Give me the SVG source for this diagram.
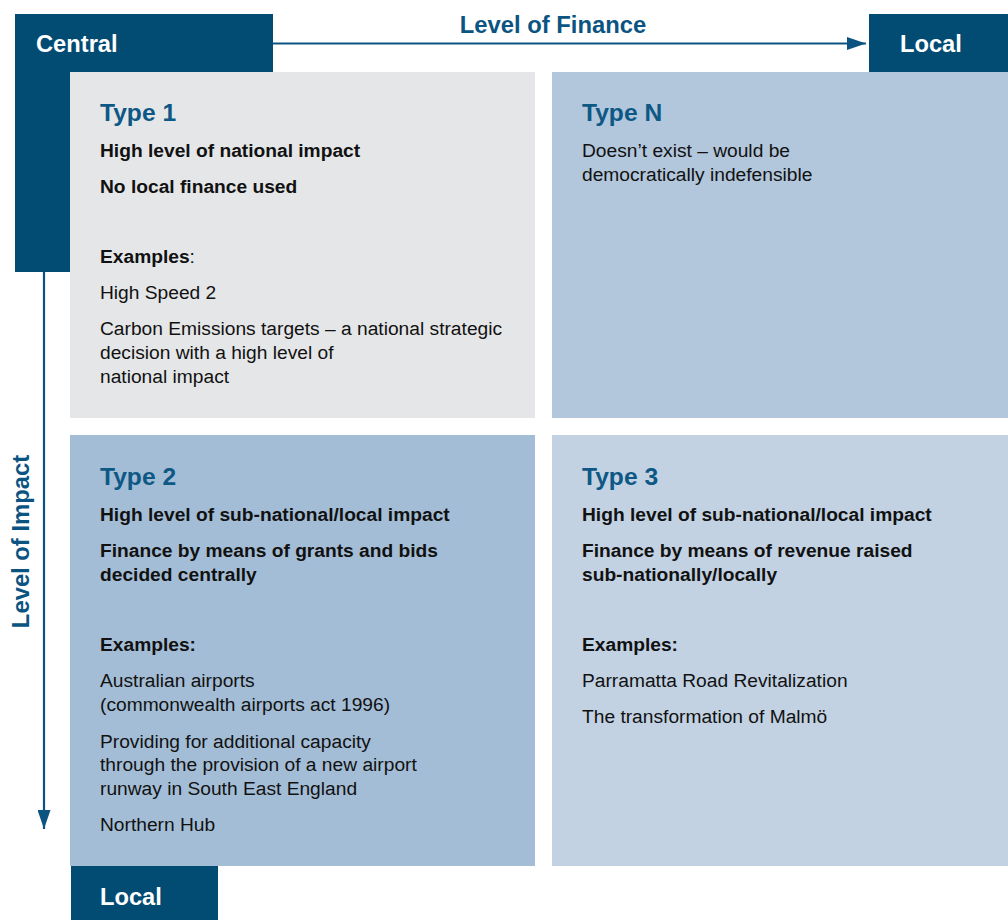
<svg xmlns="http://www.w3.org/2000/svg" width="1008" height="920" viewBox="0 0 1008 920">
<defs>
<style>
.dk{fill:#024b73}
.ax{fill:#ffffff;font-family:"Liberation Sans",Arial,sans-serif;font-weight:bold;font-size:23.7px}
.axl{fill:#0b5482;font-family:"Liberation Sans",Arial,sans-serif;font-weight:bold;font-size:23.8px}
.tt{fill:#0d5884;font-family:"Liberation Sans",Arial,sans-serif;font-weight:bold;font-size:24.6px}
.b{fill:#111111;font-family:"Liberation Sans",Arial,sans-serif;font-weight:bold;font-size:19.2px}
.r{fill:#111111;font-family:"Liberation Sans",Arial,sans-serif;font-size:19.2px}
.ln{stroke:#0b5482;stroke-width:2.2;fill:none}
</style>
<marker id="ah" viewBox="0 0 10 10" refX="10" refY="5" markerWidth="8.5" markerHeight="6.5" markerUnits="userSpaceOnUse" orient="auto" preserveAspectRatio="none">
<path d="M0,0 L10,5 L0,10 Z" fill="#0b5482"/>
</marker>
<marker id="ah2" viewBox="0 0 10 10" refX="10" refY="5" markerWidth="19" markerHeight="13" markerUnits="userSpaceOnUse" orient="auto" preserveAspectRatio="none">
<path d="M0,0 L10,5 L0,10 Z" fill="#0b5482"/>
</marker>
</defs>
<rect width="1008" height="920" fill="#ffffff"/>

<g id="connectors">
<line class="ln" x1="273" y1="43.5" x2="866" y2="43.5" marker-end="url(#ah2)"/>
<line class="ln" x1="44" y1="272" x2="44" y2="829" marker-end="url(#ah2)"/>
</g>

<g id="central">
<rect class="dk" x="15" y="14" width="258" height="258"/>
<text class="ax" x="36" y="52">Central</text>
</g>

<g id="local-top">
<rect class="dk" x="869" y="14" width="139" height="58"/>
<text class="ax" x="900" y="52">Local</text>
</g>

<g id="local-bottom">
<rect class="dk" x="71" y="866" width="147" height="54"/>
<text class="ax" x="100" y="905">Local</text>
</g>

<g id="finance-label">
<text class="axl" x="553" y="33" text-anchor="middle">Level of Finance</text>
</g>

<g id="impact-label">
<text class="axl" transform="translate(28.5,541.5) rotate(-90)" text-anchor="middle">Level of Impact</text>
</g>

<g id="type1">
<rect x="70" y="72" width="465" height="346" fill="#e5e6e8"/>
<text class="tt" x="100" y="121">Type 1</text>
<text class="b" x="100" y="157">High level of national impact</text>
<text class="b" x="100" y="193">No local finance used</text>
<text class="r" x="100" y="262.5"><tspan font-weight="bold">Examples</tspan>:</text>
<text class="r" x="100" y="299">High Speed 2</text>
<text class="r" x="100" y="335">Carbon Emissions targets – a national strategic</text>
<text class="r" x="100" y="359">decision with a high level of</text>
<text class="r" x="100" y="383">national impact</text>
</g>

<g id="typeN">
<rect x="552" y="72" width="456" height="346" fill="#b2c6dc"/>
<text class="tt" x="582" y="121">Type N</text>
<text class="r" x="582" y="157">Doesn’t exist – would be</text>
<text class="r" x="582" y="181">democratically indefensible</text>
</g>

<g id="type2">
<rect x="70" y="435" width="465" height="431" fill="#a4bdd6"/>
<text class="tt" x="100" y="485">Type 2</text>
<text class="b" x="100" y="520.5">High level of sub-national/local impact</text>
<text class="b" x="100" y="556.5">Finance by means of grants and bids</text>
<text class="b" x="100" y="580.5">decided centrally</text>
<text class="b" x="100" y="650.5">Examples:</text>
<text class="r" x="100" y="687">Australian airports</text>
<text class="r" x="100" y="711">(commonwealth airports act 1996)</text>
<text class="r" x="100" y="747.5">Providing for additional capacity</text>
<text class="r" x="100" y="771">through the provision of a new airport</text>
<text class="r" x="100" y="795">runway in South East England</text>
<text class="r" x="100" y="831">Northern Hub</text>
</g>

<g id="type3">
<rect x="552" y="435" width="456" height="431" fill="#c2d2e3"/>
<text class="tt" x="582" y="484.5">Type 3</text>
<text class="b" x="582" y="520.5">High level of sub-national/local impact</text>
<text class="b" x="582" y="556.5">Finance by means of revenue raised</text>
<text class="b" x="582" y="580.5">sub-nationally/locally</text>
<text class="b" x="582" y="650.5">Examples:</text>
<text class="r" x="582" y="686.5">Parramatta Road Revitalization</text>
<text class="r" x="582" y="722.5">The transformation of Malmö</text>
</g>
</svg>
